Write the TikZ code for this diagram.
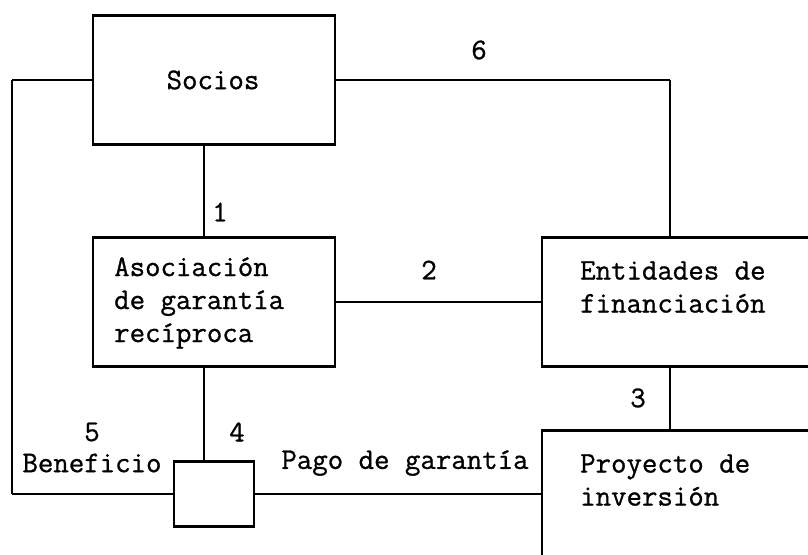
\documentclass[tikz,border=0pt]{standalone}
\usepackage{fontspec}
\newfontfamily\diagtt{Latin Modern Mono}[FakeBold=0.9]
\begin{document}
\begin{tikzpicture}[x=1pt,y=-1pt,
  box/.style={draw,line width=1.8pt,rectangle,inner sep=0pt,anchor=north west},
  hedge/.style={line width=2.8pt},
  txt/.style={font=\diagtt\fontsize{30}{33}\selectfont,inner sep=0pt},
  conn/.style={line width=2.6pt},
  vconn/.style={line width=1.8pt},
  thin/.style={line width=1.4pt}]
\useasboundingbox (0,0) rectangle (808,554);
\clip (0,0) rectangle (808,554);
% boxes
\node[box,minimum width=242pt,minimum height=128pt] (soc) at (92,15) {};
\node[box,minimum width=242pt,minimum height=128pt] (aso) at (92,237) {};
\node[box,minimum width=300pt,minimum height=128pt] (ent) at (541,237) {};
\node[box,minimum width=300pt,minimum height=160pt] (pro) at (541,430) {};
\node[box,minimum width=80pt,minimum height=64pt] (sb) at (173,461) {};
% thicker horizontal edges
\foreach \b in {soc,aso,ent,sb}{
  \draw[hedge] (\b.north west) -- (\b.north east);
  \draw[hedge] (\b.south west) -- (\b.south east);
}
\draw[hedge] (pro.north west) -- (pro.north east);
% box texts
\node[txt] (socT) at (213,80) {Socios};
\node[txt,anchor=west,align=left] (asoT) at (114,303) {Asociación\\de garantía\\recíproca};
\node[txt,anchor=west,align=left] (entT) at (580,287) {Entidades de\\financiación};
\node[txt,anchor=west,align=left] (proT) at (580,480) {Proyecto de\\inversión};
% helper coordinates
\coordinate (lx) at (12,0);
\coordinate (rx) at (670,0);
\coordinate (cx) at (204,0);
% connectors
\draw[conn] (soc.west) -- (soc.west -| lx);
\draw[vconn] (soc.west -| lx) -- (lx |- sb.west);
\draw[conn] (lx |- sb.west) -- (sb.west);
\draw[conn] (soc.east) -- (soc.east -| rx);
\draw[vconn] (soc.east -| rx) -- (rx |- ent.north);
\draw[thin] (cx |- soc.south) -- (cx |- aso.north);
\draw[conn] (aso.east) -- (ent.west);
\draw[vconn] (rx |- ent.south) -- (rx |- pro.north);
\draw[thin] (cx |- aso.south) -- (cx |- sb.north);
\draw[conn] (sb.east) -- (pro.west |- sb.east);
% labels
\node[txt] (l6) at (479,50) {6};
\node[txt] (l1) at (220,212) {1};
\node[txt] (l2) at (429,270) {2};
\node[txt] (l3) at (638,398) {3};
\node[txt] (l4) at (237,432) {4};
\node[txt] (l5) at (92,432) {5};
\node[txt] (ben) at (92,463) {Beneficio};
\node[txt] (pago) at (405,463) {Pago de garantía};
\end{tikzpicture}
\end{document}
